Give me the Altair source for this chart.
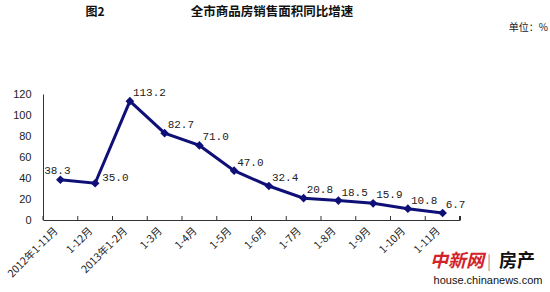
import altair as alt
import pandas as pd

categories = ["2012年1-11月", "1-12月", "2013年1-2月", "1-3月", "1-4月", "1-5月",
              "1-6月", "1-7月", "1-8月", "1-9月", "1-10月", "1-11月"]
values = [38.3, 35.0, 113.2, 82.7, 71.0, 47.0, 32.4, 20.8, 18.5, 15.9, 10.8, 6.7]
y_ticks = [0, 20, 40, 60, 80, 100, 120]

df = pd.DataFrame({"cat": categories, "val": values})
df["lab"] = [f"{v:.1f}" for v in values]

W, H = 417, 126
xenc = alt.X("cat:N", sort=categories,
             scale=alt.Scale(paddingInner=0, paddingOuter=0),
             axis=alt.Axis(title=None, labelAngle=-45, labelAlign="right", labelBaseline="middle",
                           labelFont="Noto Sans CJK SC", labelFontSize=10.5, labelColor="#222",
                           ticks=False, domainColor="#333", labelPadding=9, labelOffset=-4))
yenc = alt.Y("val:Q", scale=alt.Scale(domain=[0, 120]),
             axis=alt.Axis(title=None, values=y_ticks, ticks=False, grid=False, domainColor="#333",
                           labelFont="Liberation Sans", labelFontSize=11, labelColor="#222",
                           labelPadding=12))

base = alt.Chart(df)
line = base.mark_line(color="#0f0f78", strokeWidth=3).encode(x=xenc, y=yenc)
pts = base.mark_point(shape="diamond", filled=True, size=75, color="#0f0f78", opacity=1).encode(x=xenc, y=yenc)
lab_style = dict(font="Liberation Mono", fontSize=11, color="#222")
labels_first = base.transform_filter(alt.datum.cat == categories[0]).mark_text(
    align="center", dx=-3, dy=-9, **lab_style).encode(x=xenc, y=yenc, text="lab:N")
labels_second = base.transform_filter(alt.datum.cat == categories[1]).mark_text(
    align="left", dx=7, dy=-5, **lab_style).encode(x=xenc, y=yenc, text="lab:N")
labels_rest = base.transform_filter(
    (alt.datum.cat != categories[0]) & (alt.datum.cat != categories[1])).mark_text(
    align="left", dx=3, dy=-8, **lab_style).encode(x=xenc, y=yenc, text="lab:N")
ticks = base.mark_rule(color="#333", strokeWidth=1).encode(
    x=alt.X("cat:N", sort=categories, bandPosition=0), y=alt.value(H), y2=alt.value(H - 4))
tick_end = base.mark_rule(color="#333", strokeWidth=1).encode(
    x=alt.value(W), y=alt.value(H), y2=alt.value(H - 4))

def txt(s, x, y, **kw):
    return alt.Chart(pd.DataFrame({"t": [s]})).mark_text(**kw).encode(
        x=alt.value(x), y=alt.value(y), text="t:N")

t1 = txt("图2", 52, -82, font="Noto Sans CJK SC", fontSize=12, fontWeight="bold", color="#111")
t2 = txt("全市商品房销售面积同比增速", 229, -82, font="Noto Sans CJK SC", fontSize=12.5, fontWeight="bold", color="#111")
t3 = txt("单位：%", 505, -66, align="right", font="Noto Sans CJK SC", fontSize=10, color="#222")
w1 = txt("中新网", 414, 168, align="center", font="Noto Sans CJK SC", fontSize=18, fontWeight="bold", fontStyle="italic", color="#d2232a")
w2 = txt("|", 446, 168, align="center", font="Noto Sans CJK SC", fontSize=15, color="#999")
w3 = txt("房产", 474, 168, align="center", font="Noto Sans CJK SC", fontSize=18, fontWeight="bold", color="#111")
w4 = txt("house.chinanews.com", 445, 187, align="center", font="Liberation Sans", fontSize=11, color="#111")

chart = alt.layer(line, pts, labels_first, labels_second, labels_rest, ticks, tick_end,
                  t1, t2, t3, w1, w2, w3, w4).properties(
    width=W, height=H,
    autosize=alt.AutoSizeParams(type="none"),
    padding={"left": 43, "top": 94, "right": 90, "bottom": 72},
    background="white",
).configure_view(stroke=None)

chart.save("out.html", embed_options={"renderer": "svg", "actions": False})
